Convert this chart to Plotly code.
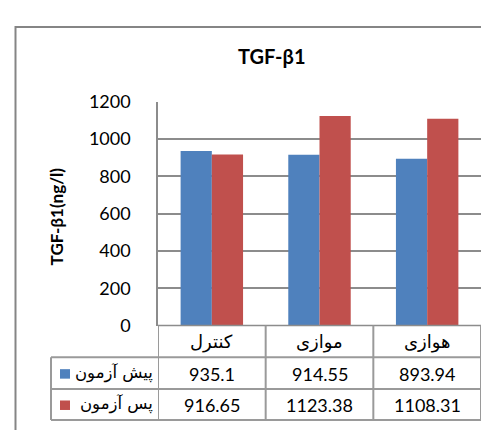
import plotly.graph_objects as go

# ---- data ----
categories = ["کنترل", "موازی", "هوازی"]
series_names = ["پیش آزمون", "پس آزمون"]
pre_values = [935.1, 914.55, 893.94]
post_values = [916.65, 1123.38, 1108.31]
pre_labels = ["935.1", "914.55", "893.94"]
post_labels = ["916.65", "1123.38", "1108.31"]
y_ticks = [0, 200, 400, 600, 800, 1000, 1200]
title_text = "TGF-β1"
y_title = "TGF-β1(ng/l)"

colors = ["#4F81BD", "#C0504D"]
W, H = 489, 430


def px(x):
    return x / W


def py(y):
    return 1 - y / H


LINE = "#9a9a9a"
GRID = "#8c8c8c"
FONT = "Lato, DejaVu Sans, sans-serif"
AFONT = "DejaVu Sans, sans-serif"

fig = go.Figure()
for name, vals, col in [(series_names[0], pre_values, colors[0]),
                        (series_names[1], post_values, colors[1])]:
    fig.add_trace(go.Bar(x=list(range(len(categories))), y=vals, name=name,
                         marker=dict(color=col, line=dict(width=0))))

fig.update_layout(
    width=W, height=H,
    margin=dict(l=0, r=0, t=0, b=0),
    paper_bgcolor="white", plot_bgcolor="white",
    showlegend=False,
    barmode="group", bargap=0.42, bargroupgap=0,
    font=dict(family=FONT, size=18, color="#000"),
    xaxis=dict(domain=[px(150), px(473)], range=[-0.5, 2.5],
               showticklabels=False, showgrid=False, zeroline=False,
               showline=False, ticks=""),
    yaxis=dict(domain=[py(322), py(86)], range=[0, 1200],
               tickvals=y_ticks, ticks="", showgrid=True,
               gridcolor=GRID, gridwidth=1.5, zeroline=False,
               showline=True, linecolor=GRID, linewidth=1.5,
               ticklabelstandoff=22,
               tickfont=dict(family=FONT, size=18, color="#000")),
)

shapes = []
# outer chart border
shapes.append(dict(type="rect", xref="paper", yref="paper",
                   x0=px(7.5), x1=px(W + 20), y0=py(H + 20), y1=py(7.5),
                   line=dict(color="#858585", width=2)))
# data table horizontal lines
shapes.append(dict(type="line", xref="x", yref="paper", x0=-0.5, x1=2.5,
                   y0=py(322), y1=py(322), line=dict(color=GRID, width=1.5)))
for yy in [355.5, 389, 421.5]:
    shapes.append(dict(type="line", xref="paper", yref="paper",
                       x0=px(43), x1=px(473), y0=py(yy), y1=py(yy),
                       line=dict(color=LINE, width=2)))
# table vertical lines at category boundaries
for i in range(len(categories) + 1):
    shapes.append(dict(type="line", xref="x", yref="paper",
                       x0=i - 0.5, x1=i - 0.5, y0=py(322), y1=py(421.5),
                       line=dict(color=LINE, width=2)))
shapes.append(dict(type="line", xref="paper", yref="paper",
                   x0=px(43), x1=px(43), y0=py(355.5), y1=py(421.5),
                   line=dict(color=LINE, width=2)))
# legend keys
for row_y, col in [(373, colors[0]), (406, colors[1])]:
    shapes.append(dict(type="rect", xref="paper", yref="paper",
                       x0=px(52), x1=px(62), y0=py(row_y + 5), y1=py(row_y - 5),
                       fillcolor=col, line=dict(width=0)))

ann = []
ann.append(dict(text="<b>%s</b>" % title_text, xref="paper", yref="paper",
                x=px(264), y=py(38), showarrow=False, xanchor="center",
                yanchor="middle", font=dict(family=FONT, size=20)))
ann.append(dict(text="<b>%s</b>" % y_title, xref="paper", yref="paper",
                x=px(48), y=py(207), showarrow=False, textangle=-90,
                xanchor="center", yanchor="middle",
                font=dict(family=FONT, size=17)))
for i, c in enumerate(categories):
    ann.append(dict(text=c, xref="x", yref="paper", x=i, y=py(339),
                    showarrow=False, xanchor="center", yanchor="middle",
                    font=dict(family=AFONT, size=18)))
    ann.append(dict(text=pre_labels[i], xref="x", yref="paper", x=i, y=py(373),
                    showarrow=False, xanchor="center", yanchor="middle",
                    font=dict(family=FONT, size=18)))
    ann.append(dict(text=post_labels[i], xref="x", yref="paper", x=i, y=py(406),
                    showarrow=False, xanchor="center", yanchor="middle",
                    font=dict(family=FONT, size=18)))
for name, row_y in [(series_names[0], 372), (series_names[1], 405)]:
    ann.append(dict(text=name, xref="paper", yref="paper", x=px(147), y=py(row_y),
                    showarrow=False, xanchor="right", yanchor="middle",
                    font=dict(family=AFONT, size=16.5)))

fig.update_layout(shapes=shapes, annotations=ann)
fig.write_html("out.html")
